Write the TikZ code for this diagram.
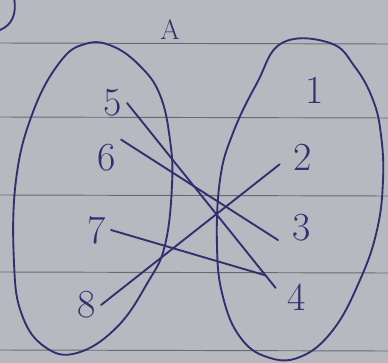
\documentclass[tikz,border=0pt]{standalone}
\usepackage{tikz}
\usetikzlibrary{calc}

\definecolor{paper}{RGB}{184,184,192}
\definecolor{rule}{RGB}{105,105,112}
\definecolor{ink}{RGB}{48,48,112}

\tikzset{
  ink/.style={draw=ink, line width=1.6pt, line cap=round, line join=round},
  elem/.style={text=ink, inner sep=4pt, font=\fontsize{34}{36}\selectfont},
  setname/.style={text=ink, inner sep=0pt, font=\fontsize{24}{26}\selectfont},
  maps/.style={ink, shorten >=10pt}
}

\begin{document}
\begin{tikzpicture}[x=0.03cm, y=-0.03cm]

% Paper and its ruled lines
\fill[paper] (0,0) rectangle (388,363);
\useasboundingbox (0,0) rectangle (388,363);
\foreach \yy in {43,117,195,272,350}
  \draw[rule, line width=0.8pt] (0,\yy) -- (388,\yy+1);

% Mark left from the previous drawing
\draw[ink] (14,-2) .. controls (17,14) and (12,25) .. (0,30);

% The name of the first set
\node[setname] (nameA) at (170,30) {A};

% The two sets
\draw[ink] plot[smooth cycle, tension=0.7] coordinates {
  (85,44) (112,46) (140,66) (160,95) (170,140) (172,185) (165,245)
  (148,282) (117,327) (77,353) (45,347) (22,315) (14,263) (16,180)
  (33,112) (60,62)};
\draw[ink] plot[smooth cycle, tension=0.7] coordinates {
  (282,43) (330,43) (355,67) (373,100) (381,135) (383,180) (377,230)
  (360,280) (333,330) (300,357) (267,357) (240,337) (223,297)
  (217,247) (220,180) (233,133) (257,83)};

% Elements of the first set
\node[elem] (n5) at (113,103) {5};
\node[elem] (n6) at (107,158) {6};
\node[elem] (n7) at (97,230) {7};
\node[elem] (n8) at (87,305) {8};

% Elements of the second set
\node[elem] (n1) at (315,90) {1};
\node[elem] (n2) at (303,157) {2};
\node[elem] (n3) at (302,228) {3};
\node[elem] (n4) at (297,297) {4};

% The mapping
\draw[maps] (n5.east) -- (n4.west);
\draw[maps] (n6.north east) -- (n3.south west);
\draw[maps] (n7.east) -- ($(n4.north west)+(-6,0)$);
\draw[maps] (n8.east) -- (n2.west);

\end{tikzpicture}
\end{document}
